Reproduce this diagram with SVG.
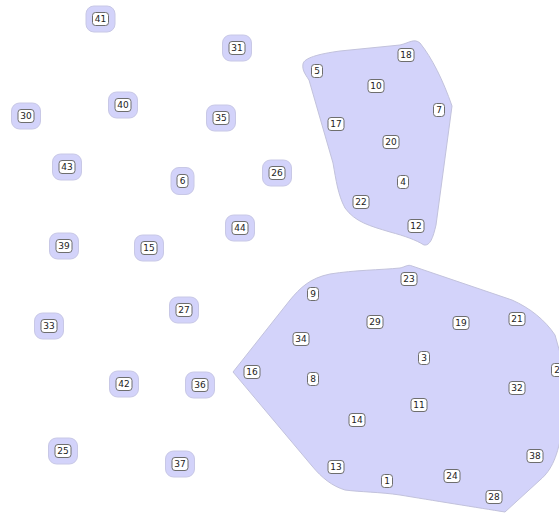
<svg xmlns="http://www.w3.org/2000/svg" width="559" height="513" viewBox="0 0 559 513">
<style>
.cl{fill:#d3d3fa;stroke:#c2c2dc;stroke-width:1}
.h{fill:#d3d3fa;stroke:#c8c8e6;stroke-width:1}
.b{fill:#fff;stroke:#6e6e6e;stroke-width:1}
text{font-family:"DejaVu Sans","Liberation Sans",sans-serif;font-size:9px;fill:#222;text-anchor:middle;dominant-baseline:central}
</style>
<rect width="559" height="513" fill="#fff"/>
<g id="clusters">
<path id="cluster1" class="cl" d="M303,64 C304,58 318,54 340,51 L400,45 C409,43 414,38 420,43 C432,58 443,80 452,106 L436,225 C433,238 430,246 424,245 C416,240 405,236 390,232 C370,226 355,222 345,208 C338,195 336,180 333,163 L309,80 C305,74 302,70 303,64 Z"/>
<path id="cluster2" class="cl" d="M233,372 L290,300 C300,288 310,278 330,274 C355,270 380,270 400,268 C405,267 408,264 412,266 L512,300 C530,308 545,320 555,335 L562,360 L562,430 C558,455 552,470 540,480 L505,512 C480,508 430,500 400,495 C380,492 360,492 345,490 C332,486 322,478 312,466 Z"/>
</g>
<g id="connectors"/>
<g id="nodes">
<g id="n41"><rect class="h" x="86" y="6" width="29" height="26" rx="8"/><rect class="b" x="92.5" y="12.5" width="16" height="13" rx="3"/><text x="100.5" y="19">41</text></g>
<g id="n31"><rect class="h" x="222.5" y="35" width="29" height="26" rx="8"/><rect class="b" x="229" y="41.5" width="16" height="13" rx="3"/><text x="237" y="48">31</text></g>
<g id="n30"><rect class="h" x="11.5" y="103" width="29" height="26" rx="8"/><rect class="b" x="18" y="109.5" width="16" height="13" rx="3"/><text x="26" y="116">30</text></g>
<g id="n40"><rect class="h" x="108.5" y="92" width="29" height="26" rx="8"/><rect class="b" x="115" y="98.5" width="16" height="13" rx="3"/><text x="123" y="105">40</text></g>
<g id="n35"><rect class="h" x="206.5" y="105" width="29" height="26" rx="8"/><rect class="b" x="213" y="111.5" width="16" height="13" rx="3"/><text x="221" y="118">35</text></g>
<g id="n43"><rect class="h" x="52.5" y="154" width="29" height="26" rx="8"/><rect class="b" x="59" y="160.5" width="16" height="13" rx="3"/><text x="67" y="167">43</text></g>
<g id="n6"><rect class="h" x="171" y="167.5" width="23" height="27" rx="8"/><rect class="b" x="177" y="174.5" width="11" height="13" rx="3"/><text x="182.5" y="181">6</text></g>
<g id="n26"><rect class="h" x="262.5" y="160" width="29" height="26" rx="8"/><rect class="b" x="269" y="166.5" width="16" height="13" rx="3"/><text x="277" y="173">26</text></g>
<g id="n44"><rect class="h" x="225.5" y="215" width="29" height="26" rx="8"/><rect class="b" x="232" y="221.5" width="16" height="13" rx="3"/><text x="240" y="228">44</text></g>
<g id="n39"><rect class="h" x="49.5" y="233" width="29" height="26" rx="8"/><rect class="b" x="56" y="239.5" width="16" height="13" rx="3"/><text x="64" y="246">39</text></g>
<g id="n15"><rect class="h" x="134.5" y="235" width="29" height="26" rx="8"/><rect class="b" x="141" y="241.5" width="16" height="13" rx="3"/><text x="149" y="248">15</text></g>
<g id="n27"><rect class="h" x="169.5" y="297" width="29" height="26" rx="8"/><rect class="b" x="176" y="303.5" width="16" height="13" rx="3"/><text x="184" y="310">27</text></g>
<g id="n33"><rect class="h" x="34.5" y="313" width="29" height="26" rx="8"/><rect class="b" x="41" y="319.5" width="16" height="13" rx="3"/><text x="49" y="326">33</text></g>
<g id="n42"><rect class="h" x="109.5" y="371" width="29" height="26" rx="8"/><rect class="b" x="116" y="377.5" width="16" height="13" rx="3"/><text x="124" y="384">42</text></g>
<g id="n36"><rect class="h" x="185.5" y="372" width="29" height="26" rx="8"/><rect class="b" x="192" y="378.5" width="16" height="13" rx="3"/><text x="200" y="385">36</text></g>
<g id="n25"><rect class="h" x="48.5" y="438" width="29" height="26" rx="8"/><rect class="b" x="55" y="444.5" width="16" height="13" rx="3"/><text x="63" y="451">25</text></g>
<g id="n37"><rect class="h" x="165.5" y="451" width="29" height="26" rx="8"/><rect class="b" x="172" y="457.5" width="16" height="13" rx="3"/><text x="180" y="464">37</text></g>

<g id="n18"><rect class="b" x="398" y="48.5" width="16" height="13" rx="3"/><text x="406" y="55">18</text></g>
<g id="n5"><rect class="b" x="311.5" y="64.5" width="11" height="13" rx="3"/><text x="317" y="71">5</text></g>
<g id="n10"><rect class="b" x="368" y="79.5" width="16" height="13" rx="3"/><text x="376" y="86">10</text></g>
<g id="n7"><rect class="b" x="433.5" y="103.5" width="11" height="13" rx="3"/><text x="439" y="110">7</text></g>
<g id="n17"><rect class="b" x="328" y="117.5" width="16" height="13" rx="3"/><text x="336" y="124">17</text></g>
<g id="n20"><rect class="b" x="383" y="135.5" width="16" height="13" rx="3"/><text x="391" y="142">20</text></g>
<g id="n4"><rect class="b" x="397.5" y="175.5" width="11" height="13" rx="3"/><text x="403" y="182">4</text></g>
<g id="n22"><rect class="b" x="353" y="195.5" width="16" height="13" rx="3"/><text x="361" y="202">22</text></g>
<g id="n12"><rect class="b" x="408" y="219.5" width="16" height="13" rx="3"/><text x="416" y="226">12</text></g>

<g id="n23"><rect class="b" x="401" y="272.5" width="16" height="13" rx="3"/><text x="409" y="279">23</text></g>
<g id="n9"><rect class="b" x="307.5" y="287.5" width="11" height="13" rx="3"/><text x="313" y="294">9</text></g>
<g id="n29"><rect class="b" x="367" y="315.5" width="16" height="13" rx="3"/><text x="375" y="322">29</text></g>
<g id="n19"><rect class="b" x="453" y="316.5" width="16" height="13" rx="3"/><text x="461" y="323">19</text></g>
<g id="n21"><rect class="b" x="509" y="312.5" width="16" height="13" rx="3"/><text x="517" y="319">21</text></g>
<g id="n34"><rect class="b" x="293" y="332.5" width="16" height="13" rx="3"/><text x="301" y="339">34</text></g>
<g id="n3"><rect class="b" x="418.5" y="351.5" width="11" height="13" rx="3"/><text x="424" y="358">3</text></g>
<g id="n16"><rect class="b" x="244" y="365.5" width="16" height="13" rx="3"/><text x="252" y="372">16</text></g>
<g id="n8"><rect class="b" x="307.5" y="372.5" width="11" height="13" rx="3"/><text x="313" y="379">8</text></g>
<g id="n2"><rect class="b" x="551.5" y="363.5" width="11" height="13" rx="3"/><text x="557" y="370">2</text></g>
<g id="n32"><rect class="b" x="509" y="381.5" width="16" height="13" rx="3"/><text x="517" y="388">32</text></g>
<g id="n11"><rect class="b" x="411" y="398.5" width="16" height="13" rx="3"/><text x="419" y="405">11</text></g>
<g id="n14"><rect class="b" x="349" y="413.5" width="16" height="13" rx="3"/><text x="357" y="420">14</text></g>
<g id="n38"><rect class="b" x="527" y="449.5" width="16" height="13" rx="3"/><text x="535" y="456">38</text></g>
<g id="n13"><rect class="b" x="328" y="460.5" width="16" height="13" rx="3"/><text x="336" y="467">13</text></g>
<g id="n24"><rect class="b" x="444" y="469.5" width="16" height="13" rx="3"/><text x="452" y="476">24</text></g>
<g id="n1"><rect class="b" x="381.5" y="474.5" width="11" height="13" rx="3"/><text x="387" y="481">1</text></g>
<g id="n28"><rect class="b" x="486" y="490.5" width="16" height="13" rx="3"/><text x="494" y="497">28</text></g>
</g>
</svg>
